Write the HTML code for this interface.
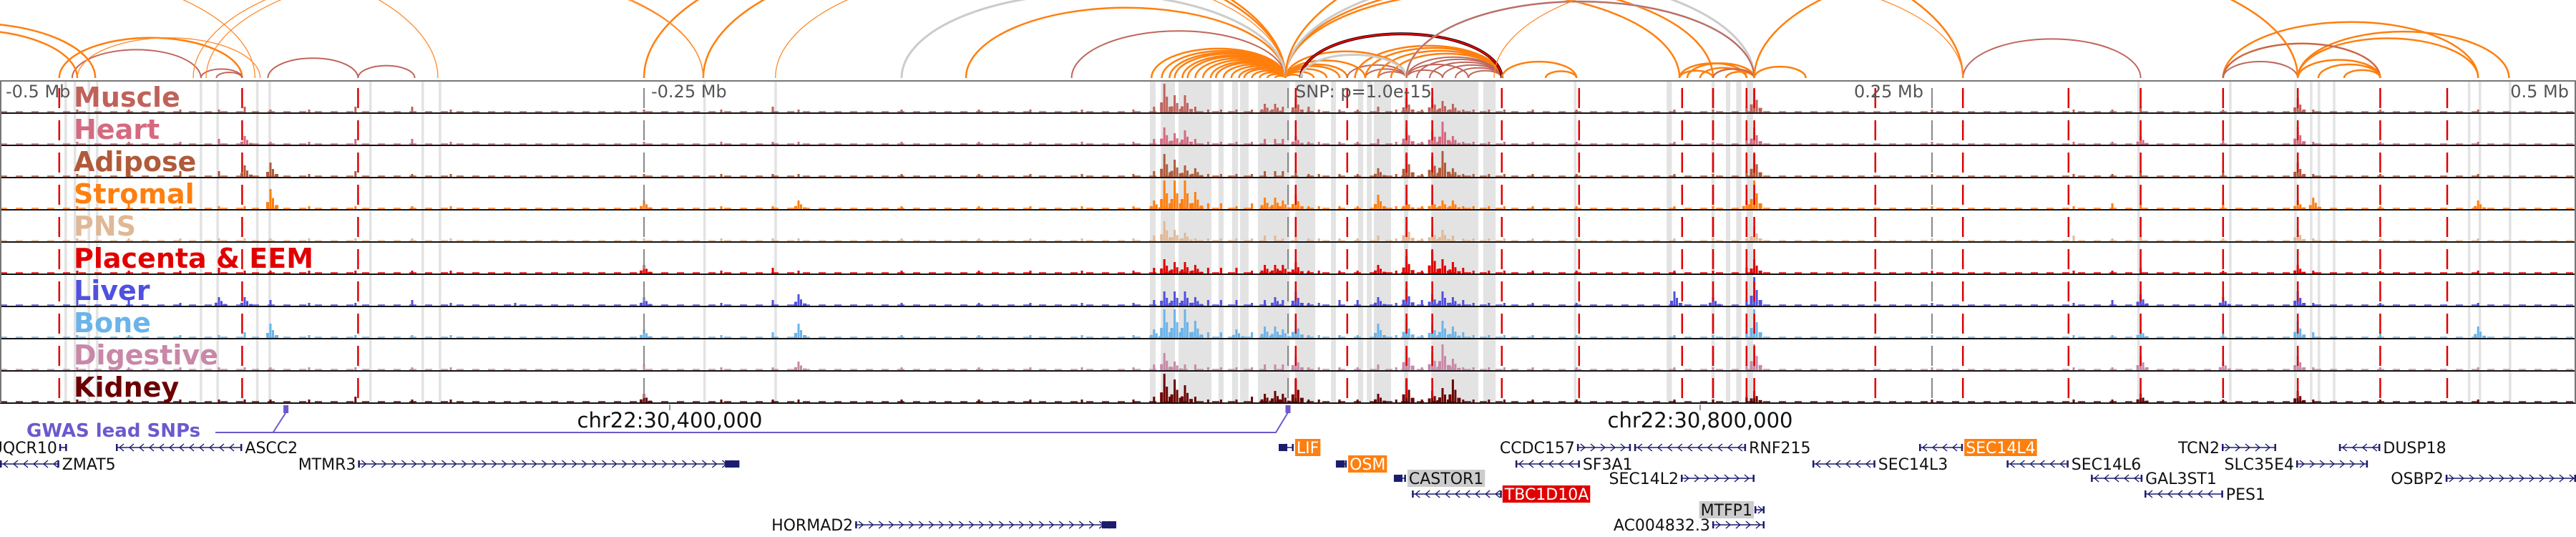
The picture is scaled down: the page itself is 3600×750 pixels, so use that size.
<!DOCTYPE html>
<html><head><meta charset="utf-8">
<style>
html,body{margin:0;padding:0;background:#fff;width:3600px;height:750px;overflow:hidden}
svg{display:block}
</style></head>
<body>
<svg id="chart" width="3600" height="750" viewBox="0 0 3600 750" xmlns="http://www.w3.org/2000/svg" font-family="'DejaVu Sans','Liberation Sans',sans-serif">
<g id="bands"></g>
<g id="arcs"></g>
<g id="tracks"></g>
<g id="vlines"></g>
<g id="labels"></g>
<g id="axis"></g>
<g id="gwas"></g>
<g id="genes"></g>
</svg>
<script>
// ---- data (genomic offsets in kb from lead SNP) ----
const trackNames = ["Muscle","Heart","Adipose","Stromal","PNS","Placenta & EEM","Liver","Bone","Digestive","Kidney"];
const trackColors = ["#c0625a","#d46a80","#b05a3a","#ff7f0e","#e0b896","#e00000","#5050e0","#6ab4ea","#c888a8","#6b0000"];
const peakPos = [-470,-450,-430,-415,-405,-395,-380,-362,-340,-325,-300,-250,-220,-200,-190,-150,-120,-100,-80,-60,
 -52,-48,-44,-40,-36,-31,-26,-20,-14,-9,-5,-2,
 3,8,12,20,27,35,42,46,52,56,60,64,68,72,78,84,
 95,112,150,165,178,181,250,305,320,331,363,392,398,424,462];
const muscleVals =   [1,1,1,1,2,1,1,2,2,1,0,1,1,2,1,1,1,1,1,1, 2,10,6,6,2,1,1,1,1,3,3,2, 5,2,1,1,1,2,1,5,1,5,4,3,1,1,1,1, 1,1,1,1,2,8,1,1,1,2,1,5,1,1,1];
const heartVals =    [1,1,1,2,3,1,1,2,2,1,0,1,1,1,1,1,1,1,1,1, 2,6,4,5,2,1,1,1,1,2,2,2, 3,1,1,1,1,2,1,6,1,5,8,3,1,1,1,1, 1,1,1,1,2,6,1,1,1,3,2,6,1,1,1];
const adiposeVals =  [1,1,2,2,4,5,1,2,1,1,0,1,1,1,1,1,1,1,1,1, 2,8,6,4,3,1,1,1,1,2,2,2, 2,1,1,1,1,3,1,8,1,7,9,3,1,1,1,1, 1,1,1,1,2,8,1,1,1,2,2,5,1,1,1];
const stromalVals =  [1,2,1,1,1,7,1,1,1,1,0,3,1,1,3,1,1,1,1,1, 3,10,10,10,6,2,2,1,2,4,4,3, 5,1,1,1,1,5,1,3,1,3,3,3,1,1,1,1, 1,1,1,1,3,10,1,1,2,2,2,3,4,1,3];
const pnsVals =      [1,1,1,1,1,1,1,1,1,1,0,1,1,1,1,1,1,1,1,1, 2,7,4,3,1,1,1,1,1,2,2,1, 2,1,1,1,1,2,1,6,1,4,4,2,1,1,1,1, 1,1,1,1,1,5,1,2,1,2,1,4,1,1,1];
const placentaVals = [1,1,1,2,1,1,1,1,1,1,0,3,1,2,1,1,1,1,1,1, 2,5,4,4,3,2,2,2,1,3,3,3, 4,1,1,1,1,3,1,6,1,8,5,4,2,1,1,1, 1,1,1,1,2,5,1,1,1,2,1,3,1,1,1];
const liverVals =    [2,2,1,3,3,2,1,1,2,1,1,3,1,2,4,1,1,1,1,1, 2,5,5,5,3,2,2,2,1,2,3,2, 5,1,1,2,2,3,1,6,2,4,5,3,2,1,1,1, 1,1,5,3,2,10,1,1,2,4,3,5,1,1,1];
const boneVals =     [1,1,1,1,2,5,1,1,1,1,0,3,1,2,5,1,1,1,1,1, 3,10,10,10,6,2,2,3,2,4,4,3, 6,1,1,1,1,5,1,6,1,5,6,4,2,1,1,1, 1,1,1,1,2,10,1,1,1,3,2,6,2,2,4];
const digestiveVals =[1,1,1,1,1,1,1,1,1,1,0,2,1,1,3,1,1,1,1,1, 2,6,3,2,2,1,1,1,1,2,2,2, 5,1,1,1,1,2,1,8,1,6,9,4,1,1,1,1, 1,1,1,1,2,9,1,1,1,5,3,5,1,1,1];
const kidneyVals =   [1,1,1,1,1,1,1,2,1,1,0,3,1,1,1,1,1,1,1,1, 2,10,8,6,2,1,1,1,2,3,4,3, 8,1,1,1,1,3,1,8,1,4,5,8,1,1,1,1, 1,1,1,1,2,4,1,1,1,3,1,4,1,1,1];
const trackVals = [muscleVals,heartVals,adiposeVals,stromalVals,pnsVals,placentaVals,liverVals,boneVals,digestiveVals,kidneyVals];

const bandStarts = [-53.6,-49.4,-42.5,-27,-21.7,-18.6,-11.7,2.8,16.7,27.2,30.6,33.3,45,55.6,75.8,111,147,164.4,170,174,178,
 -475,-471.4,-466,-462.8,-422.5,-416,-400.6,-395.8,-356.7,-336.4,-329.7,-227,-199.4,329.7,365.3,390.6,396.7,399.7,405.6,458,462.2,473.9];
const bandEnds = [-51.4,-43.9,-29.7,-25,-19.4,-15.3,0.6,10.6,18.6,29.2,32.5,40,46.7,73.9,80.6,112,149,165.6,171.7,176,180.5,
 -474,-470.4,-465,-461.8,-421.5,-415,-399.6,-394.8,-355.7,-335.4,-328.7,-226,-198.4,330.7,366.3,391.6,397.7,400.7,406.6,459,463.2,474.9];
const redLines = [-477,-406,-361,3,23,46,56,83,113,153,165,178,181,228,262,303,331,363,392,424,450];
const grayLines = [-250,0,250];

const arcStart = [-1,-1,-1,-1,-1,-1,-1,-1,-1,-1,-1,-1,-1,-1,-1,-1,-1,-1, -1,-1,-1,-1,-1,-1,-1, -1,-1,-1,-150,-250,-199,-227,-125,-84,
 46,50,55,60,65,70,23,30,35,46,46,26,30,35,40, 5,5,5, -150,-1,46,46, 83,100,
 152,155,160,165,152,170,181,165,
 -477,-472,-470,-422,-416,-396,-361,-600,-560,-560,-555,-420,-425,
 262,-1,80,363,363,392,392,363,363,392,400,410,181];
const arcEnd = [-53,-49,-46,-44,-41,-39,-36,-33,-30,-28,-25,-22,-19,-17,-14,-11,-8,-5, 5,10,15,20,23,30,46, 181,165,152,-1,-1,-1,-1,-1,-1,
 83,83,83,83,83,83,46,46,46,60,70,83,83,83,83, 83,83,46, -1,181,181,181, 112,112,
 178,181,178,181,165,181,201,181,
 -406,-422,-399,-406,-406,-361,-339,-401,-330,-463,-470,-227,-227,
 331,262,262,424,462,474,462,392,424,424,424,424,392];
const arcType = [0,0,0,0,0,0,0,0,0,0,0,0,0,0,0,0,0,0, 0,0,0,0,0,0,0, 0,0,0,0,0,2,0,0,1,
 1,1,1,1,1,1,1,1,1,1,1,0,0,0,0, 3,4,5, 5,5,5,1, 0,0,
 0,0,0,0,0,0,0,1,
 0,1,2,1,1,1,1,2,2,0,0,2,2,
 1,0,2,0,0,0,0,1,1,0,0,0,0];

const geneNames = ["UQCR10","ZMAT5","ASCC2","MTMR3","HORMAD2","LIF","OSM","CASTOR1","TBC1D10A","CCDC157","RNF215","SF3A1","SEC14L2","MTFP1","AC004832.3","SEC14L4","SEC14L3","SEC14L6","GAL3ST1","PES1","TCN2","SLC35E4","DUSP18","OSBP2"];
const geneStart = [-477,-500,-455,-361,-168,-3.6,18.6,41.1,48.1,112.2,134.4,88.3,152.5,181.1,164.7,245,203.6,279,311.7,332.5,362.5,391.4,408,449.4];
const geneEnd = [-474,-477,-406,-213,-66.7,2.2,22.8,45.8,83,133.1,177.8,113.3,181.1,185,185,262,228,303,331.7,363,383.6,419.2,424,500];
const geneRow = [0,1,0,1,5,0,1,2,3,0,0,1,2,4,5,0,1,1,2,3,0,1,0,2];
const geneStrand = [1,-1,-1,1,1,-1,-1,-1,-1,1,-1,-1,1,1,1,-1,-1,-1,-1,-1,1,1,-1,1];
const geneLabelSide = [-1,1,1,-1,-1,1,1,1,1,-1,1,1,-1,-1,-1,1,1,1,1,1,-1,-1,1,-1];
const geneHighlight = ["","","","","","#ff7f0e","#ff7f0e","#cccccc","#e00000","","","","","#cccccc","","#ff7f0e","","","","","","","",""];

// ---- scales ----
const NS="http://www.w3.org/2000/svg";
const X = kb => 1800 + kb*3.6;
const TOP = 113, TH = 45, ARCBASE = 109;
const trackBottom = i => TOP + TH*(i+1) - 1;
const H = v => v*4;
function mk(tag, attrs, parent){const e=document.createElementNS(NS,tag);for(const k in attrs)e.setAttribute(k,attrs[k]);parent.appendChild(e);return e;}

// bands
const gB=document.getElementById('bands');
bandStarts.forEach((s,i)=>{
  const r=mk('rect',{x:X(s),y:TOP,width:Math.max(3,X(bandEnds[i])-X(s)),height:TH*10,fill:'#e3e3e3'},gB);
  
  
});

// arcs
const arcColors=['#ff7f0e','#c0665a','#ff8a2a','#000000','#e00000','#cccccc'];
const arcWidths=[2.5,2,1.3,4,2.5,3];
const gA=document.getElementById('arcs');
arcStart.forEach((s,i)=>{
  const x1=X(Math.min(s,arcEnd[i])), x2=X(Math.max(s,arcEnd[i]));
  const rx=(x2-x1)/2, ry=rx*0.44;
  const p=mk('path',{d:`M${x1},${ARCBASE} A${rx},${ry} 0 0 1 ${x2},${ARCBASE}`,fill:'none',stroke:arcColors[arcType[i]],'stroke-width':arcWidths[arcType[i]]},gA);
  
  
});

// tracks
const gT=document.getElementById('tracks');
trackVals.forEach((vals,t)=>{
  const g=mk('g',{},gT);
  
  
  const b=trackBottom(t);
  mk('line',{x1:0,x2:3600,y1:b-1,y2:b-1,stroke:trackColors[t],'stroke-width':1.5,'stroke-dasharray':'10 12'},g);
  vals.forEach((v,k)=>{
    if(v<=0) return;
    const x=X(peakPos[k]), h=H(v);
    const bar=mk('rect',{x:x-1.5,y:b-h,width:3,height:h,fill:trackColors[t]},g);
    
    
    if(v>=3){
      mk('rect',{x:x-6,y:b-h*0.35,width:4,height:h*0.35,fill:trackColors[t]},g);
      mk('rect',{x:x+2,y:b-h*0.55,width:3,height:h*0.55,fill:trackColors[t]},g);
      mk('rect',{x:x+6,y:b-h*0.2,width:5,height:h*0.2,fill:trackColors[t]},g);
    }
  });
  mk('line',{x1:0,x2:3600,y1:TOP+TH*(t+1),y2:TOP+TH*(t+1),stroke:'#111','stroke-width':2},g);
});
mk('line',{x1:0,x2:3600,y1:TOP,y2:TOP,stroke:'#777','stroke-width':2},gT);
mk('line',{x1:1,x2:1,y1:TOP,y2:TOP+450,stroke:'#777','stroke-width':2},gT);
mk('line',{x1:3599,x2:3599,y1:TOP,y2:TOP+450,stroke:'#777','stroke-width':2},gT);

// vertical marker lines
const gV=document.getElementById('vlines');
redLines.forEach(k=>{
  const l=mk('line',{x1:X(k),x2:X(k),y1:TOP,y2:TOP+450,stroke:'#e00000','stroke-width':2.5,'stroke-dasharray':'28 17','stroke-dashoffset':'-10'},gV);
  
  
});
grayLines.forEach(k=>{
  const l=mk('line',{x1:X(k),x2:X(k),y1:TOP,y2:TOP+450,stroke:'#888','stroke-width':2,'stroke-dasharray':'28 17','stroke-dashoffset':'-10'},gV);
  
  
});

// track labels
const gL=document.getElementById('labels');
trackNames.forEach((n,t)=>{
  const tx=mk('text',{x:103,y:149+45*t,'font-size':38,'font-weight':'bold',fill:trackColors[t]},gL);
  tx.textContent=n;
  
  
});

// axis labels
const gX=document.getElementById('axis');
const topTicks=[-500,-250,0,250,500];
const topTickLabels=["-0.5 Mb","-0.25 Mb","SNP: p=1.0e-15","0.25 Mb","0.5 Mb"];
const topAnchor=["start","start","start","end","end"];
const topDx=[8,10,10,-12,-10];
topTicks.forEach((k,i)=>{
  const tx=mk('text',{x:Math.min(X(k),3600)+topDx[i],y:136,'font-size':24,fill:'#555','text-anchor':topAnchor[i]},gX);
  tx.textContent=topTickLabels[i];
  
  
});
const chrTicks=[-240,160];
const chrTickLabels=["chr22:30,400,000","chr22:30,800,000"];
chrTicks.forEach((k,i)=>{
  mk('line',{x1:X(k),x2:X(k),y1:565,y2:573,stroke:'#777','stroke-width':1.5},gX);
  const tx=mk('text',{x:X(k),y:597,'font-size':29,fill:'#111','text-anchor':'middle'},gX);
  tx.textContent=chrTickLabels[i];
  
  
});

// GWAS
const gG=document.getElementById('gwas');
const gwasSnps=[-389,0];
mk('path',{d:`M301,604 L${X(gwasSnps[0])-18},604 L${X(gwasSnps[0])},576 M${X(gwasSnps[0])-18},604 L${X(gwasSnps[1])-17},604 L${X(gwasSnps[1])},576`,fill:'none',stroke:'#6a5acd','stroke-width':2},gG);
gwasSnps.forEach(k=>{
  const r=mk('rect',{x:X(k)-3.5,y:566,width:7,height:11,fill:'#6a5acd'},gG);
  
  
});
const gt=mk('text',{x:37,y:610,'font-size':26,'font-weight':'bold',fill:'#6a5acd'},gG);
gt.textContent='GWAS lead SNPs';



// genes
const gN=document.getElementById('genes');
const rowY=[625,648,668,690,712,733];
const GC='#1c1c6e';
geneNames.forEach((n,i)=>{
  const g=mk('g',{},gN);
  
  
  const x1=X(geneStart[i]), x2=Math.min(X(geneEnd[i]),3600), y=rowY[geneRow[i]];
  mk('line',{x1:x1,x2:x2,y1:y,y2:y,stroke:GC,'stroke-width':1.6},g);
  const d=geneStrand[i];
  let path='';
  for(let x=x1+8;x<x2-4;x+=14){ path+=`M${x-3*d},${y-5} L${x+3*d},${y} L${x-3*d},${y+5} `; }
  if(path) mk('path',{d:path,fill:'none',stroke:GC,'stroke-width':1.4},g);
  mk('rect',{x:x1,y:y-5,width:2.5,height:10,fill:GC},g);
  mk('rect',{x:x2-2.5,y:y-5,width:2.5,height:10,fill:GC},g);
  if(d>0 && x2-x1>200) mk('rect',{x:x2-20,y:y-5,width:20,height:10,fill:GC},g);
  if(d<0 && x2-x1<30) mk('rect',{x:x1,y:y-5,width:12,height:10,fill:GC},g);
  const side=geneLabelSide[i];
  const lx= side>0 ? x2+4 : x1-3;
  const fs=22;
  const tx=mk('text',{x:lx,y:y+8,'font-size':fs,'text-anchor':side>0?'start':'end'},g);
  tx.textContent=n;
  if(geneHighlight[i]){
    const bb=tx.getBBox();
    const r=document.createElementNS(NS,'rect');
    r.setAttribute('x',bb.x-2);r.setAttribute('y',y-12);
    r.setAttribute('width',bb.width+4);r.setAttribute('height',24);
    r.setAttribute('fill',geneHighlight[i]);
    g.insertBefore(r,tx);
  }
  tx.setAttribute('fill', geneHighlight[i] && geneHighlight[i]!=='#cccccc' ? '#fff' : '#111');
});
</script>
</body></html>
